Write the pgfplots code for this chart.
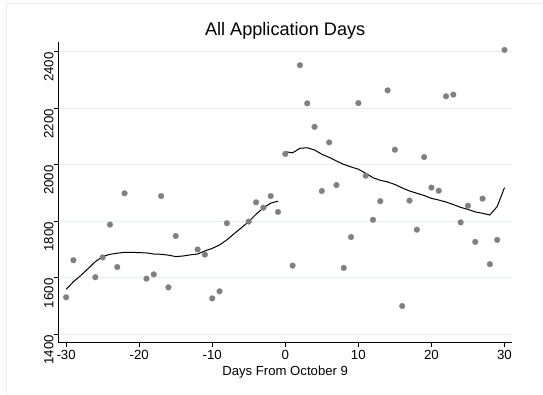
\documentclass[border=0pt]{standalone}
\usepackage{pgfplots}
\pgfplotsset{compat=1.18}
\usepackage{fontspec}
\setmainfont{Liberation Sans}
\definecolor{gridc}{HTML}{E6EEF0}
\definecolor{dotc}{HTML}{808080}
\definecolor{framec}{HTML}{EAF0F0}
\begin{document}
\begin{tikzpicture}[x=1bp,y=1bp]
\begin{axis}[
  at={(0,0)}, anchor=south west,
  scale only axis,
  width=453.7bp, height=300bp,
  xmin=-31.07, xmax=31.03,
  ymin=1371.7, ymax=2433,
  axis x line*=bottom, axis y line*=left,
  axis line style={black, line width=0.9bp},
  xtick={-30,-20,-10,0,10,20,30},
  ytick={1400,1600,1800,2000,2200,2400},
  tick align=outside,
  major tick length=4.5bp,
  tick style={black, line width=0.8bp},
  ymajorgrids,
  grid style={gridc, line width=0.9bp},
  /pgf/number format/assume math mode=true,
  /pgf/number format/1000 sep={},
  tick label style={font=\fontsize{13.3}{15}\selectfont},
  xticklabel style={anchor=north, inner sep=0pt, yshift=-3.5bp},
  yticklabel style={rotate=90, anchor=south, inner sep=0pt, xshift=-15.5bp},
  title={All Application Days},
  title style={font=\fontsize{18.2}{20}\selectfont, at={(axis description cs:0.5,1)}, anchor=center, yshift=5.5bp, inner sep=0pt},
  xlabel={Days From October 9},
  xlabel style={font=\fontsize{13.2}{15}\selectfont, at={(axis description cs:0.5,0)}, anchor=center, yshift=-30bp, inner sep=0pt},
  clip=false,
]
\addplot[color=dotc, only marks, mark=*, mark size=2.9bp, mark options={draw=dotc, fill=dotc, line width=0.2bp}] coordinates {
(-30,1531) (-29,1662) (-26,1602) (-25,1672) (-24,1788) (-23,1638) (-22,1899)
(-19,1597) (-18,1612) (-17,1889) (-16,1566) (-15,1748) (-12,1700) (-11,1682)
(-10,1527) (-9,1552) (-8,1793) (-5,1799) (-4,1867) (-3,1848) (-2,1889) (-1,1833)
(0,2038) (1,1643) (2,2352) (3,2217) (4,2134) (5,1907) (6,2079) (7,1928)
(8,1635) (9,1744) (10,2218) (11,1961) (12,1805) (13,1871) (14,2263) (15,2053)
(16,1500) (17,1873) (18,1770) (19,2027) (20,1919) (21,1908) (22,2242) (23,2248)
(24,1796) (25,1855) (26,1727) (27,1880) (28,1648) (29,1734) (30,2406)
};
\addplot[black, line width=1bp, mark=none] coordinates {
(-30,1559) (-29,1586) (-28,1608) (-27,1632) (-26,1657) (-25,1675) (-24,1683)
(-23,1687) (-22,1690) (-21,1690) (-20,1689) (-19,1688) (-18,1684) (-17,1683)
(-16,1680) (-15,1675) (-14,1677) (-13,1681) (-12,1684) (-11,1695) (-10,1704)
(-9,1716) (-8,1734) (-7,1756) (-6,1777) (-5,1799) (-4,1825) (-3,1847) (-2,1864) (-1,1871)
};
\addplot[black, line width=1bp, mark=none] coordinates {
(0,2046) (1,2042) (2,2058) (3,2060) (4,2052) (5,2037) (6,2026) (7,2013)
(8,2001) (9,1992) (10,1984) (11,1970) (12,1954) (13,1945) (14,1939) (15,1930)
(16,1918) (17,1907) (18,1899) (19,1891) (20,1881) (21,1875) (22,1868) (23,1859)
(24,1849) (25,1842) (26,1833) (27,1828) (28,1822) (29,1852) (30,1919)
};
\end{axis}
\draw[framec, line width=1bp] (-51.3,-51.7) -- (-51.3,338.8) -- (484.7,338.8);
\pgfresetboundingbox
\useasboundingbox (-58.3,-51.7) rectangle (484.7,342.3);
\end{tikzpicture}
\end{document}
